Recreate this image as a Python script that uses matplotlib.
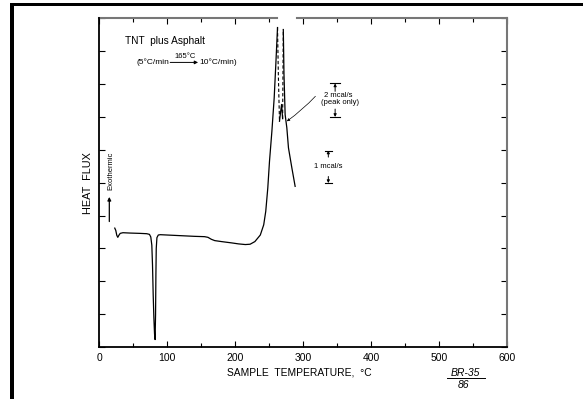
import numpy as np
import matplotlib
matplotlib.use('Agg')
import matplotlib.pyplot as plt
from matplotlib.patches import Rectangle

plt.rcParams['font.family'] = ['Liberation Sans', 'DejaVu Sans']

# DSC-kurva, TNT plus asfalt (avlästa värden)
temp_a = [23, 24.5, 26, 27.5, 29, 31, 35, 45, 60, 70, 74, 76, 77.5, 78.5, 79.5,
          80.5, 81.5, 82.3, 83, 83.5, 84, 85, 87, 90, 100, 120, 140, 155, 160,
          165, 170, 180, 195, 205, 215, 222, 229, 237, 242, 245, 248, 250.5,
          254, 257.4, 259.8, 262.3]
flux_a = [3.62, 3.55, 3.40, 3.34, 3.40, 3.46, 3.48, 3.47, 3.46, 3.45, 3.43, 3.35,
          3.10, 2.50, 1.60, 0.90, 0.40, 0.23, 1.00, 2.20, 3.00, 3.33, 3.41, 3.42,
          3.41, 3.39, 3.37, 3.36, 3.34, 3.28, 3.24, 3.21, 3.17, 3.14, 3.12, 3.13,
          3.21, 3.41, 3.72, 4.13, 4.84, 5.65, 6.56, 7.58, 8.60, 9.72]
# streckad del mellan topparna
temp_b = [262.3, 263.5, 265.2]
flux_b = [9.72, 8.3, 6.87]
temp_c = [265.2, 266.5, 268.3, 269.8]
flux_c = [6.87, 7.10, 7.38, 6.95]
temp_d = [269.8, 270.8]
flux_d = [6.95, 9.66]
temp_e = [270.8, 271.8, 273.5, 276, 278.4, 283.4, 288.2]
flux_e = [9.66, 8.3, 7.07, 6.67, 6.06, 5.45, 4.89]

x_ticks = [0, 100, 200, 300, 400, 500, 600]

fig = plt.figure(figsize=(5.83, 3.99), dpi=100)
ax = fig.add_axes([0.170, 0.130, 0.700, 0.824])

ax.plot(temp_a, flux_a, color='black', lw=0.9)
ax.plot(temp_b, flux_b, color='black', lw=0.8, ls=(0, (3, 2)))
ax.plot(temp_c, flux_c, color='black', lw=0.9)
ax.plot(temp_d, flux_d, color='black', lw=0.8, ls=(0, (3, 2)))
ax.plot(temp_e, flux_e, color='black', lw=0.9)

ax.set_xlim(0, 600)
ax.set_ylim(0, 10)
ax.set_xticks(x_ticks)
ax.set_xticks(np.arange(0, 601, 50), minor=True)
ax.set_yticks(np.arange(0, 11, 1))
ax.tick_params(axis='y', which='both', direction='in', left=True, right=True,
               labelleft=False, length=4, width=0.8)
ax.tick_params(axis='x', which='major', direction='in', top=True, bottom=True,
               length=4, width=0.8, labelsize=7.5, pad=4)
ax.tick_params(axis='x', which='minor', direction='in', top=True, bottom=True,
               length=3, width=0.8)

for s in ['left', 'bottom']:
    ax.spines[s].set_linewidth(1.3)
ax.spines['right'].set_linewidth(1.5)
ax.spines['right'].set_color('#777777')
ax.spines['top'].set_visible(False)
# övre axeln bruten där toppen går upp
tr = ax.get_xaxis_transform()
ax.plot([0, 261], [1, 1], color='#777777', lw=1.5, transform=tr, clip_on=False)
ax.plot([291, 600], [1, 1], color='#777777', lw=1.5, transform=tr, clip_on=False)

# texter
ax.text(97, 9.3, 'TNT  plus Asphalt', ha='center', va='center', fontsize=7.3)
ax.text(104, 8.68, '(5°C/min', ha='right', va='center', fontsize=6)
ax.annotate('', xy=(145.5, 8.66), xytext=(104.5, 8.66),
            arrowprops=dict(arrowstyle='-|>', color='black', lw=0.7,
                            mutation_scale=5, shrinkA=0, shrinkB=0))
ax.text(126, 8.84, '165°C', ha='center', va='center', fontsize=5.5)
ax.text(147, 8.68, '10°C/min)', ha='left', va='center', fontsize=6)

ax.annotate('', xy=(15, 4.57), xytext=(15, 3.82),
            arrowprops=dict(arrowstyle='-|>', color='black', lw=0.9,
                            mutation_scale=5, shrinkA=0, shrinkB=0))
ax.text(17, 5.35, 'Exothermic', rotation=90, ha='center', va='center', fontsize=5.5)

ax.text(-0.028, 0.5, 'HEAT  FLUX', rotation=90, ha='center', va='center',
        fontsize=7.8, transform=ax.transAxes)
ax.text(0.49, -0.076, 'SAMPLE  TEMPERATURE,  °C', ha='center', va='center',
        fontsize=7.4, transform=ax.transAxes)

# skalstreck
def skala(xc, y_top, y_bot, half, arm):
    ax.plot([xc - half, xc + half], [y_top, y_top], color='black', lw=0.8)
    ax.plot([xc - half, xc + half], [y_bot, y_bot], color='black', lw=0.8)
    ax.annotate('', xy=(xc, y_top), xytext=(xc, y_top - arm),
                arrowprops=dict(arrowstyle='-|>', color='black', lw=0.7,
                                mutation_scale=4, shrinkA=0, shrinkB=0))
    ax.annotate('', xy=(xc, y_bot), xytext=(xc, y_bot + arm),
                arrowprops=dict(arrowstyle='-|>', color='black', lw=0.7,
                                mutation_scale=4, shrinkA=0, shrinkB=0))

skala(347, 8.02, 7.0, 7, 0.24)
skala(337, 5.98, 4.99, 5, 0.2)
ax.text(352, 7.65, '2 mcal/s', ha='center', va='center', fontsize=5.5)
ax.text(354, 7.43, '(peak only)', ha='center', va='center', fontsize=5.5)
ax.text(337, 5.5, '1 mcal/s', ha='center', va='center', fontsize=5.5)
ax.annotate('', xy=(276, 6.87), xytext=(318, 7.63),
            arrowprops=dict(arrowstyle='-|>', color='black', lw=0.5,
                            mutation_scale=4, shrinkA=0, shrinkB=0,
                            connectionstyle='arc3,rad=-0.05'))

# handskriven märkning
ax.text(0.897, -0.079, 'BR-35', ha='center', va='center', fontsize=7.5,
        style='italic', transform=ax.transAxes)
ax.plot([0.853, 0.946], [-0.095, -0.095], color='black', lw=0.7,
        transform=ax.transAxes, clip_on=False)
ax.text(0.893, -0.115, '86', ha='center', va='center', fontsize=7.5,
        style='italic', transform=ax.transAxes)

# svart ram överst och till vänster
fig.add_artist(Rectangle((0.0172, 0.0), 0.006, 0.9925, transform=fig.transFigure,
                         color='black', lw=0))
fig.add_artist(Rectangle((0.0172, 0.985), 0.9828, 0.0075, transform=fig.transFigure,
                         color='black', lw=0))

fig.savefig('out.png', dpi=100)
